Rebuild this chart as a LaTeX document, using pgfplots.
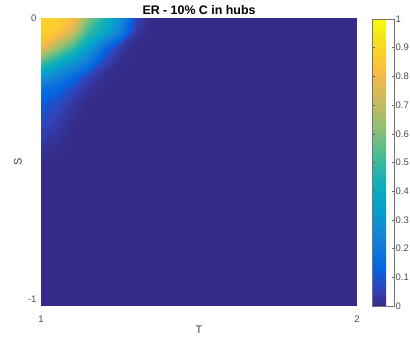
\documentclass[border=0pt]{standalone}
\usepackage{pgfplots}
\pgfplotsset{compat=1.18}
\usepackage{fontspec}
\setmainfont{Liberation Sans}

\pgfplotstableread{
x y z
1.00 0.00 0.88
1.05 0.00 0.88
1.10 0.00 0.82
1.15 0.00 0.60
1.20 0.00 0.45
1.25 0.00 0.28
1.30 0.00 0.06
1.35 0.00 0
1.40 0.00 0
1.45 0.00 0
1.50 0.00 0

1.00 -0.05 0.88
1.05 -0.05 0.85
1.10 -0.05 0.72
1.15 -0.05 0.50
1.20 -0.05 0.38
1.25 -0.05 0.22
1.30 -0.05 0.03
1.35 -0.05 0
1.40 -0.05 0
1.45 -0.05 0
1.50 -0.05 0

1.00 -0.10 0.80
1.05 -0.10 0.65
1.10 -0.10 0.50
1.15 -0.10 0.34
1.20 -0.10 0.16
1.25 -0.10 0.04
1.30 -0.10 0
1.35 -0.10 0
1.40 -0.10 0
1.45 -0.10 0
1.50 -0.10 0

1.00 -0.15 0.55
1.05 -0.15 0.42
1.10 -0.15 0.32
1.15 -0.15 0.22
1.20 -0.15 0.07
1.25 -0.15 0.01
1.30 -0.15 0
1.35 -0.15 0
1.40 -0.15 0
1.45 -0.15 0
1.50 -0.15 0

1.00 -0.20 0.32
1.05 -0.20 0.24
1.10 -0.20 0.15
1.15 -0.20 0.06
1.20 -0.20 0.01
1.25 -0.20 0
1.30 -0.20 0
1.35 -0.20 0
1.40 -0.20 0
1.45 -0.20 0
1.50 -0.20 0

1.00 -0.25 0.16
1.05 -0.25 0.13
1.10 -0.25 0.07
1.15 -0.25 0.02
1.20 -0.25 0
1.25 -0.25 0
1.30 -0.25 0
1.35 -0.25 0
1.40 -0.25 0
1.45 -0.25 0
1.50 -0.25 0

1.00 -0.30 0.11
1.05 -0.30 0.08
1.10 -0.30 0.03
1.15 -0.30 0
1.20 -0.30 0
1.25 -0.30 0
1.30 -0.30 0
1.35 -0.30 0
1.40 -0.30 0
1.45 -0.30 0
1.50 -0.30 0

1.00 -0.35 0.08
1.05 -0.35 0.05
1.10 -0.35 0.01
1.15 -0.35 0
1.20 -0.35 0
1.25 -0.35 0
1.30 -0.35 0
1.35 -0.35 0
1.40 -0.35 0
1.45 -0.35 0
1.50 -0.35 0

1.00 -0.40 0.05
1.05 -0.40 0.03
1.10 -0.40 0
1.15 -0.40 0
1.20 -0.40 0
1.25 -0.40 0
1.30 -0.40 0
1.35 -0.40 0
1.40 -0.40 0
1.45 -0.40 0
1.50 -0.40 0

1.00 -0.45 0.02
1.05 -0.45 0.01
1.10 -0.45 0
1.15 -0.45 0
1.20 -0.45 0
1.25 -0.45 0
1.30 -0.45 0
1.35 -0.45 0
1.40 -0.45 0
1.45 -0.45 0
1.50 -0.45 0

1.00 -0.50 0
1.05 -0.50 0
1.10 -0.50 0
1.15 -0.50 0
1.20 -0.50 0
1.25 -0.50 0
1.30 -0.50 0
1.35 -0.50 0
1.40 -0.50 0
1.45 -0.50 0
1.50 -0.50 0
}\patchdata

\pgfplotstableread{
x y z
1 -1 0
2 -1 0

1 0 0
2 0 0
}\basedata

\begin{document}
\begin{tikzpicture}
\useasboundingbox (0,0) rectangle (410bp,344bp);
\begin{axis}[
  at={(41bp,38bp)}, anchor=south west,
  scale only axis, width=316bp, height=288bp,
  xmin=1, xmax=2, ymin=-1, ymax=0,
  xtick={1,2}, ytick={-1,0},
  axis line style={draw=none},
  major tick style={draw=none},
  /pgf/number format/assume math mode=true,
  tick label style={font=\fontsize{9.5bp}{11bp}\selectfont, text=black!70},
  xticklabel style={yshift=-6bp},
  yticklabel style={xshift=-1bp, yshift={ifthenelse(\ticknum==0,7,0)}},
  xlabel={T}, ylabel={S},
  label style={font=\fontsize{11bp}{13bp}\selectfont, text=black!75},
  xlabel style={at={(axis description cs:0.5,-0.083)}, anchor=center},
  ylabel style={at={(axis description cs:-0.073,0.5)}, anchor=center, rotate=0},
  title={ER - 10\% C in hubs},
  title style={font=\bfseries\fontsize{12.4bp}{14bp}\selectfont, at={(axis description cs:0.5,1)}, anchor=base, yshift=-2bp},
  colormap={parula}{
    rgb=(0.2081,0.1663,0.5292)
    rgb=(0.1959,0.2645,0.7279)
    rgb=(0.0117,0.3875,0.8820)
    rgb=(0.0498,0.4586,0.8641)
    rgb=(0.0793,0.5200,0.8312)
    rgb=(0.0343,0.5966,0.8199)
    rgb=(0.0228,0.6535,0.7768)
    rgb=(0.0843,0.6928,0.7062)
    rgb=(0.2178,0.7250,0.6193)
    rgb=(0.3953,0.7459,0.5244)
    rgb=(0.5709,0.7485,0.4494)
    rgb=(0.7184,0.7411,0.3905)
    rgb=(0.8507,0.7299,0.3360)
    rgb=(0.9739,0.7314,0.2666)
    rgb=(0.9880,0.8066,0.1794)
    rgb=(0.9589,0.8949,0.1132)
    rgb=(0.9763,0.9831,0.0538)
  },
  point meta min=0, point meta max=1,
  colorbar,
  colorbar style={
    at={(parent axis.north east)}, anchor=north west, xshift=6.5bp, yshift=-1bp,
    scale only axis, width=22bp, height=287bp,
    ytick={0,0.1,0.2,0.3,0.4,0.5,0.6,0.7,0.8,0.9,1},
    yticklabels={0,0.1,0.2,0.3,0.4,0.5,0.6,0.7,0.8,0.9,1},
    yticklabel pos=right,
    tick align=inside,
    tick label style={font=\fontsize{9.5bp}{11bp}\selectfont, text=black!70},
    yticklabel style={inner xsep=0.5bp, xshift=1bp, yshift=0bp},
    axis line style={draw=black!55},
    major tick style={draw=black!60, thin},
    major tick length=2.5bp,
  },
]
\addplot[surf, shader=interp, point meta=\thisrow{z}] table[x=x, y=y] {\basedata};
\addplot[surf, shader=interp, point meta=\thisrow{z}] table[x=x, y=y] {\patchdata};
\end{axis}
\end{tikzpicture}
\end{document}
